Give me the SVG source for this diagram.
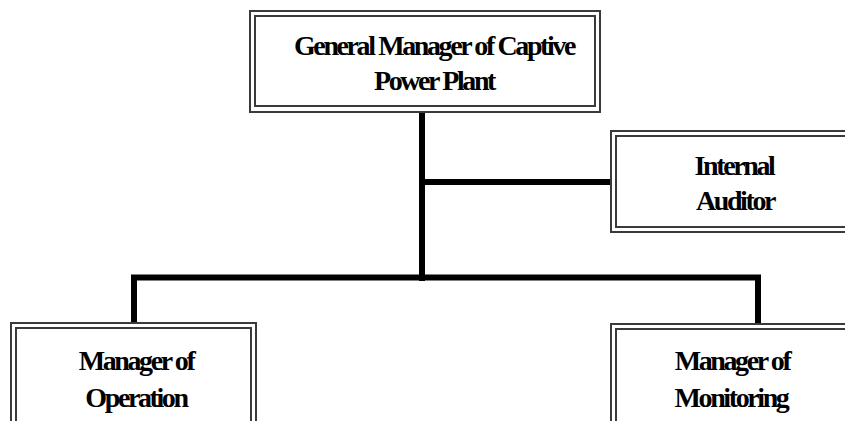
<svg xmlns="http://www.w3.org/2000/svg" width="845" height="421" viewBox="0 0 845 421">
<style>
.b{fill:none;stroke:#3a3a3a;stroke-width:2}
.t{font-family:"Liberation Serif","Times New Roman",serif;font-weight:bold;font-size:28px;letter-spacing:-2.4px;fill:#000;text-anchor:middle}
.c{fill:none;stroke:#000;stroke-width:6}
</style>
<rect width="845" height="421" fill="#fff"/>
<g id="connectors">
<path class="c" d="M422 112V281"/>
<path class="c" d="M422 182H611"/>
<path class="c" d="M134 324V277.5H758V324"/>
</g>
<g id="gm">
<rect class="b" x="250" y="11" width="350" height="101"/>
<rect class="b" x="255" y="16" width="340" height="90"/>
<text class="t" x="434" y="55">General Manager of Captive</text>
<text class="t" x="434" y="90">Power Plant</text>
</g>
<g id="auditor">
<rect class="b" x="611" y="131" width="250" height="101"/>
<rect class="b" x="616" y="136" width="240" height="91"/>
<text class="t" x="734" y="175">Internal</text>
<text class="t" x="735" y="210">Auditor</text>
</g>
<g id="operation">
<rect class="b" x="11" y="323" width="245" height="120"/>
<rect class="b" x="16" y="328" width="235" height="110"/>
<text class="t" x="136" y="370">Manager of</text>
<text class="t" x="136" y="407">Operation</text>
</g>
<g id="monitoring">
<rect class="b" x="611" y="324" width="250" height="120"/>
<rect class="b" x="616" y="329" width="240" height="110"/>
<text class="t" x="732" y="370">Manager of</text>
<text class="t" x="731" y="407">Monitoring</text>
</g>
</svg>
